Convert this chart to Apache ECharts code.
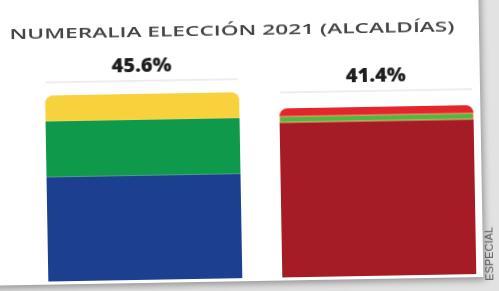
<!DOCTYPE html>
<html>
<head>
<meta charset="utf-8">
<script src="https://cdn.jsdelivr.net/npm/echarts@6/dist/echarts.min.js"></script>
<style>
  html, body { margin: 0; padding: 0; width: 499px; height: 291px; overflow: hidden; background: #e2e2e2; }
  #wrap { position: absolute; left: 0; top: 0; width: 499px; height: 291px; transform: rotate(-1deg); transform-origin: 249.5px 145.5px; }
  #paper { position: absolute; left: -40px; top: -40px; width: 521px; height: 321px; background: #fff; box-shadow: 2px 3px 7px rgba(0,0,0,0.35); }
  #main { position: absolute; left: 0; top: 0; width: 499px; height: 291px; }
</style>
</head>
<body>
<div id="wrap"><div id="paper"></div><div id="main"></div></div>
<script>
// datos (porcentaje de votos, alcaldias 2021)
var categories = ['PAN-PRI-PRD', 'MORENA-PT-PVEM'];
var baseVals = [25.6, 37.9];
var midVals = [13.7, 1.6];
var topVals = [6.3, 1.9];
var titleText = 'NUMERALIA ELECCIÓN 2021 (ALCALDÍAS)';
var creditText = 'ESPECIAL';

// estilos
var baseColors = ['#1c3f8f', '#a51b26'];
var midColors = ['#0f9a4b', '#4cb848'];
var topColors = ['#f8d23c', '#e2262b'];
var labelDistance = [12, 15];

var titleFont = '600 15px "Open Sans"';
var ctx = document.createElement('canvas').getContext('2d');
ctx.font = titleFont;
var titleScale = 445 / ctx.measureText(titleText).width;

var chart = echarts.init(document.getElementById('main'));
chart.setOption({
  backgroundColor: 'transparent',
  animation: false,
  grid: { left: 26, right: 5, top: 74, bottom: 13 },
  xAxis: { type: 'category', data: categories, show: false },
  yAxis: { type: 'value', min: 0, max: 50, show: false },
  graphic: [
    {
      type: 'text', x: 234, y: 31, scaleX: titleScale,
      style: { text: titleText, font: titleFont, fill: '#444', align: 'center', verticalAlign: 'middle' }
    },
    {
      type: 'text', x: 488, y: 258, rotation: Math.PI / 2,
      style: { text: creditText, font: '11px "Liberation Sans"', fill: '#555', align: 'center', verticalAlign: 'middle' }
    }
  ],
  series: [
    {
      type: 'bar', stack: 'total', barWidth: 194,
      data: baseVals.map(function (v, i) { return { value: v, itemStyle: { color: baseColors[i] } }; })
    },
    {
      type: 'bar', stack: 'total',
      data: midVals.map(function (v, i) {
        return { value: v, itemStyle: { color: midColors[i], borderColor: i == 1 ? '#e49a3c' : midColors[i], borderWidth: i == 1 ? 1 : 0 } };
      })
    },
    {
      type: 'bar', stack: 'total',
      data: topVals.map(function (v, i) {
        return {
          value: v,
          itemStyle: { color: topColors[i], borderRadius: [8, 8, 0, 0] },
          label: { distance: labelDistance[i] }
        };
      }),
      label: {
        show: true,
        position: 'top',
        formatter: function (p) {
          var i = p.dataIndex;
          var total = baseVals[i] + midVals[i] + topVals[i];
          return '{v|' + total.toFixed(1) + '%}\n{hr|}';
        },
        rich: {
          v: { fontFamily: 'Open Sans', fontWeight: 800, fontSize: 20, color: '#1e1e1e', lineHeight: 28 },
          hr: { width: 192, height: 0, lineHeight: 2, borderColor: '#e8e8e8', borderWidth: 1 }
        }
      }
    }
  ]
});
</script>
</body>
</html>
